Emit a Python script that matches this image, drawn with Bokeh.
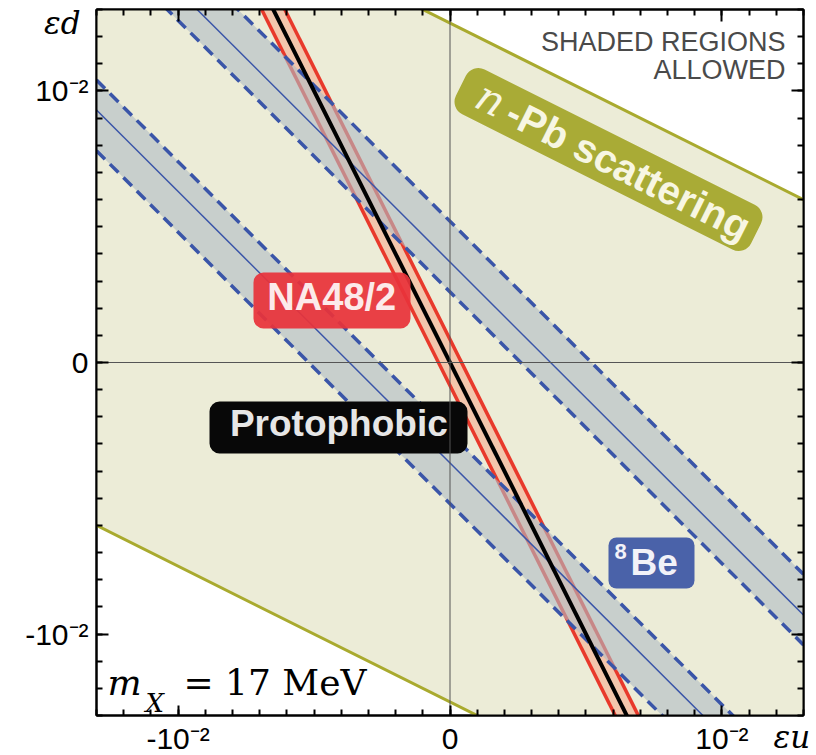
import math
from bokeh.plotting import figure
from bokeh.models import Range1d, FixedTicker, LinearAxis, Span
from bokeh.core.properties import value
from bokeh.embed import file_html
from bokeh.resources import INLINE

# ---------------- data ----------------
X_RANGE = [-0.013, 0.013]          # eps_u
Y_RANGE = [-0.013, 0.013]          # eps_d
MAJOR_TICKS = [-0.01, 0.0, 0.01]
MAJOR_TICK_LABELS = ["-10⁻²", "0", "10⁻²"]
MINOR_TICKS = [-0.013, -0.012, -0.011, -0.010, -0.009, -0.008, -0.007,
               -0.006, -0.005, -0.004, -0.003, -0.002, -0.001, 0.0,
               0.001, 0.002, 0.003, 0.004, 0.005, 0.006, 0.007,
               0.008, 0.009, 0.010, 0.011, 0.012, 0.013]
X_TITLE = "\nεu"
Y_TITLE = "\nεd"

# eps_u end points used to draw the straight constraint lines
EPS_U_SPAN = [-0.013, 0.013]
# n-Pb scattering: |eps_u + 2 eps_d| < NPB_LIMIT
NPB_LIMIT = 0.025
# 8Be: eps_u + eps_d bands (low edge, best fit, high edge)
BE8_BANDS = [(-0.0052, -0.0037, -0.0026), (0.0026, 0.0037, 0.0052)]
# NA48/2: |2 eps_u + eps_d| < NA48_LIMIT ; protophobic: 2 eps_u + eps_d = 0
NA48_LIMIT = 0.00085
PROTOPHOBIC = 0.0

SANS_NAME = "Liberation Sans"
SERIF_NAME = "DejaVu Serif"
SANS = value(SANS_NAME)
SERIF = value(SERIF_NAME)

OLIVE = "#A9AA2E"
BEIGE = "#ECECD7"
BLUE = "#3A55A8"
RED = "#E8392B"

p = figure(frame_width=707, frame_height=706,
           min_border_left=96, min_border_right=13, min_border_top=9, min_border_bottom=20,
           x_range=Range1d(*X_RANGE), y_range=Range1d(*Y_RANGE),
           output_backend="svg", toolbar_location=None,
           background_fill_color="white", border_fill_color="white")
p.grid.visible = False
p.outline_line_color = "black"
p.outline_line_width = 2

def npb(c):
    return [(c - u) / 2.0 for u in EPS_U_SPAN]

def be8(s):
    return [s - u for u in EPS_U_SPAN]

def na48(c):
    return [c - 2.0 * u for u in EPS_U_SPAN]

# n-Pb allowed region
p.varea(x=EPS_U_SPAN, y1=npb(-NPB_LIMIT), y2=npb(NPB_LIMIT), fill_color=BEIGE)
for c in (-NPB_LIMIT, NPB_LIMIT):
    p.line(EPS_U_SPAN, npb(c), line_color=OLIVE, line_width=3)

# NA48/2 band
p.varea(x=EPS_U_SPAN, y1=na48(-NA48_LIMIT), y2=na48(NA48_LIMIT), fill_color="#F3C6AC")
for c in (-NA48_LIMIT, NA48_LIMIT):
    p.line(EPS_U_SPAN, na48(c), line_color=RED, line_width=3.5)

# 8Be bands
for lo, mid, hi in BE8_BANDS:
    p.varea(x=EPS_U_SPAN, y1=be8(lo), y2=be8(hi), fill_color="#B0BDC5", fill_alpha=0.6)
for lo, mid, hi in BE8_BANDS:
    p.line(EPS_U_SPAN, be8(mid), line_color=BLUE, line_width=1.5)
    for s in (lo, hi):
        p.line(EPS_U_SPAN, be8(s), line_color=BLUE, line_width=3.5, line_dash="12 7")

# zero lines
p.add_layout(Span(location=0, dimension="width", line_color="#555555", line_width=1, level="glyph"))
p.add_layout(Span(location=0, dimension="height", line_color="#555555", line_width=1, level="glyph"))

# protophobic line
p.line(EPS_U_SPAN, na48(PROTOPHOBIC), line_color="black", line_width=4)

# ---------------- labels ----------------
ANG = -math.atan(0.5)
p.rect(x=[0.005829], y=[0.007476], width=[330], height=[50], width_units="screen",
       height_units="screen", angle=ANG, fill_color="#A9AB36", line_color=None, border_radius=14)
p.text(x=[0.00150], y=[0.009700], text=["n"], angle=ANG, text_font=SERIF,
       text_font_style="italic", text_font_size="42px", text_color="#F7F6E2",
       text_align="center", text_baseline="middle")
p.text(x=[0.002177], y=[0.009306], text=["-Pb scattering"], angle=ANG, text_font=SANS,
       text_font_style="bold", text_font_size="40px", text_color="#F7F6E2",
       text_align="left", text_baseline="middle")

p.rect(x=[-0.00434], y=[0.002283], width=[157], height=[56], width_units="screen",
       height_units="screen", fill_color="#E8333A", fill_alpha=0.93, line_color=None, border_radius=10)
p.text(x=[-0.004347], y=[0.002405], text=["NA48/2"], text_font=SANS, text_font_style="bold",
       text_font_size="38px", text_color="#FCEAEA", text_align="center", text_baseline="middle")

p.rect(x=[-0.0041], y=[-0.002394], width=[258], height=[52], width_units="screen",
       height_units="screen", fill_color="#080808", line_color=None, border_radius=10)
p.text(x=[-0.004089], y=[-0.002261], text=["Protophobic"], text_font=SANS, text_font_style="bold",
       text_font_size="37px", text_color="#E6E6E6", text_align="center", text_baseline="middle")

p.rect(x=[0.00741], y=[-0.007384], width=[86], height=[51], width_units="screen",
       height_units="screen", fill_color="#4A62A9", line_color=None, border_radius=8)
p.text(x=[0.00605], y=[-0.006942], text=["8"], text_font=SANS, text_font_style="bold",
       text_font_size="22px", text_color="#F2F2F8", text_align="left", text_baseline="middle")
p.text(x=[0.006638], y=[-0.007354], text=["Be"], text_font=SANS, text_font_style="bold",
       text_font_size="37px", text_color="#F2F2F8", text_align="left", text_baseline="middle")

p.text(x=[0.012338], y=[0.011785], text=["SHADED REGIONS"], text_font=SANS,
       text_font_size="27px", text_color="#4A4A4A", text_align="right", text_baseline="middle")
p.text(x=[0.012338], y=[0.010754], text=["ALLOWED"], text_font=SANS,
       text_font_size="27px", text_color="#4A4A4A", text_align="right", text_baseline="middle")

p.text(x=[-0.012596], y=[-0.011768], text=["m"], text_font=SERIF, text_font_style="italic",
       text_font_size="36px", text_color="black", text_baseline="middle")
p.text(x=[-0.011198], y=[-0.012547], text=["X"], text_font=SERIF, text_font_style="italic",
       text_font_size="26px", text_color="black", text_baseline="middle")
p.text(x=[-0.009801], y=[-0.011768], text=["= 17 MeV"], text_font=SERIF,
       text_font_size="36px", text_color="black", text_baseline="middle")

# ---------------- axes ----------------
ticker = FixedTicker(ticks=MAJOR_TICKS, minor_ticks=MINOR_TICKS)

def style_axis(ax, major_len):
    ax.ticker = ticker
    ax.axis_line_width = 2
    ax.axis_line_color = "black"
    ax.major_tick_in = major_len
    ax.major_tick_out = 0
    ax.minor_tick_in = 6
    ax.minor_tick_out = 0
    ax.major_tick_line_width = 2
    ax.minor_tick_line_width = 2
    ax.major_tick_line_color = "black"
    ax.minor_tick_line_color = "black"

def tick_labels(ax, standoff):
    ax.major_label_overrides = {t: lab for t, lab in zip(MAJOR_TICKS, MAJOR_TICK_LABELS)}
    ax.major_label_text_font = SANS_NAME
    ax.major_label_text_font_size = "30px"
    ax.major_label_text_color = "black"
    ax.major_label_standoff = standoff

def no_tick_labels(ax):
    ax.major_label_overrides = {t: "" for t in MAJOR_TICKS}
    ax.major_label_text_font_size = "0px"
    ax.major_label_standoff = 0

def axis_title(ax, text, standoff, align, line_height):
    ax.axis_label = text
    ax.axis_label_text_font = SERIF_NAME
    ax.axis_label_text_font_style = "italic"
    ax.axis_label_text_font_size = "31px"
    ax.axis_label_text_color = "black"
    ax.axis_label_text_line_height = line_height
    ax.axis_label_align = align
    ax.axis_label_standoff_mode = "axis"
    ax.axis_label_standoff = standoff
    ax.axis_label_orientation = "horizontal"

yax = p.yaxis[0]
style_axis(yax, 12)
tick_labels(yax, 8)
axis_title(yax, Y_TITLE, 16, "end", 0.75)

xax = p.xaxis[0]
style_axis(xax, 10)
tick_labels(xax, 6)

top = LinearAxis()
right = LinearAxis()
for ax in (top, right):
    style_axis(ax, 12)
    no_tick_labels(ax)
axis_title(right, X_TITLE, -30, "start", 1.2)
p.add_layout(top, "above")
p.add_layout(right, "right")

open("out.html", "w").write(file_html(p, INLINE))
